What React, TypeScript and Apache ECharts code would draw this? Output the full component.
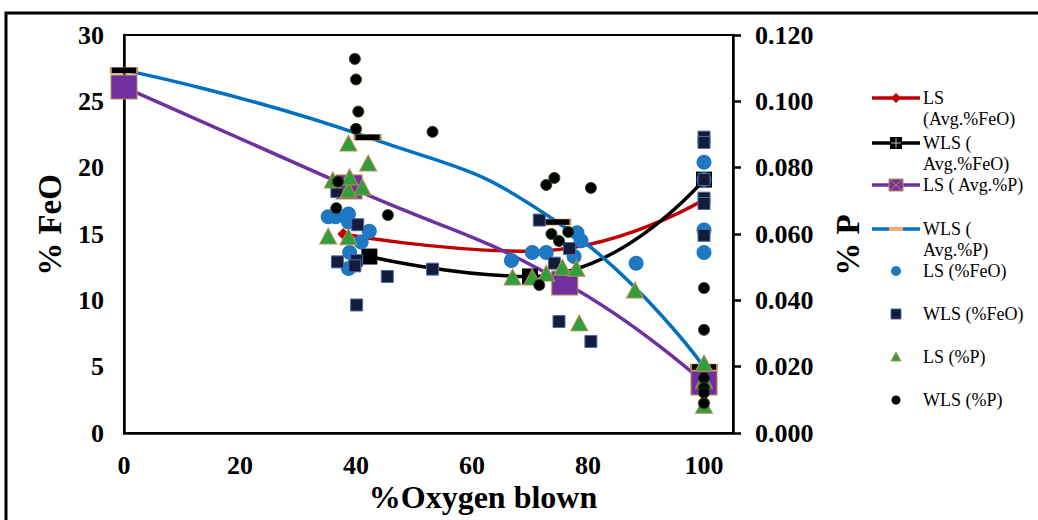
import React, { useEffect, useRef } from "react";
import * as echarts from "echarts";

// ---- Data ----
const xTicks = [0, 20, 40, 60, 80, 100];

// Average curves ([%O2 blown, value])
const lsAvgFeO = [[37.8, 15.0], [70, 13.7], [100, 17.6]];
const wlsAvgFeO = [[42.3, 13.3], [70, 11.8], [100, 19.1]];
const lsAvgP = [[0, 0.1043], [38.8, 0.0742], [76, 0.0452], [100, 0.0151]];
const wlsAvgP = [[0, 0.1094], [42, 0.0892], [74.7, 0.0636], [100, 0.0199]];

// Individual measurements
const lsFeO = [
  [35.2, 16.3], [36.5, 16.3], [38.7, 16.5], [38.7, 15.9], [42.3, 15.2], [40.9, 14.4], [38.9, 13.6], [38.7, 12.4],
  [66.8, 13.0], [70.4, 13.6], [72.8, 13.6], [78.1, 15.1], [78.8, 14.5], [77.6, 13.3], [88.3, 12.8],
  [100, 20.4], [100, 19.1], [100, 15.3], [100, 13.6],
];
const wlsFeO = [
  [36.7, 18.2], [40.3, 15.7], [36.8, 12.9], [40.1, 13.0], [39.8, 12.6], [45.4, 11.8], [53.2, 12.35], [40.1, 9.65],
  [71.6, 16.05], [76.8, 13.9], [74.2, 12.8], [75.0, 8.4], [80.5, 6.9],
  [100, 22.3], [100, 21.9], [100, 19.1], [100, 17.7], [100, 17.3], [100, 14.9],
];
const lsP = [
  [35.2, 0.0594], [36.0, 0.0763], [38.7, 0.0874], [38.7, 0.0733], [38.9, 0.0772], [38.7, 0.0592], [41.1, 0.0742], [42.1, 0.0814],
  [67.0, 0.047], [70.4, 0.047], [72.8, 0.0482], [75.6, 0.05], [78.0, 0.0497], [78.5, 0.0332], [88.1, 0.0431],
  [100, 0.0211], [100, 0.016], [100, 0.0084],
];
const wlsP = [
  [39.8, 0.1128], [40.0, 0.1066], [40.4, 0.0969], [40.0, 0.0917], [53.2, 0.0908], [36.9, 0.0758], [36.6, 0.0678], [45.5, 0.0657],
  [72.8, 0.0748], [74.2, 0.0769], [80.5, 0.0739], [73.7, 0.06], [76.6, 0.0606], [75.0, 0.0579], [71.6, 0.0446],
  [100, 0.0437], [100, 0.0311], [100, 0.0166], [100, 0.0136], [100, 0.0121], [100, 0.009],
];

const legendNames = [
  ["LS", "(Avg.%FeO)"],
  ["WLS (", "Avg.%FeO)"],
  ["LS ( Avg.%P)"],
  ["WLS (", "Avg.%P)"],
  ["LS (%FeO)"],
  ["WLS (%FeO)"],
  ["LS (%P)"],
  ["WLS (%P)"],
];

const RED = "#c00000";
const BLACK = "#000000";
const PURPLE = "#7030a0";
const BLUE = "#0070c0";
const DOT_BLUE = "#1f78c4";
const NAVY = "#141c3c";
const GREEN = "#2f9e3c";
const TAN = "#c08a50";
const SERIF = "Liberation Serif";

function buildLegend() {
  const ys = [98, 143, 185, 229, 271, 314, 357, 400];
  const els: any[] = [];
  const x0 = 872, x1 = 920, cx = 896;
  const lineColors = [RED, BLACK, PURPLE, BLUE];
  ys.forEach((y, i) => {
    if (i < 4) {
      els.push({ type: "line", shape: { x1: x0, y1: y, x2: x1, y2: y }, style: { stroke: lineColors[i], lineWidth: 3.5 } });
    }
    if (i === 0) {
      els.push({ type: "polygon", shape: { points: [[cx, y - 5], [cx + 5, y], [cx, y + 5], [cx - 5, y]] }, style: { fill: RED } });
    } else if (i === 1) {
      els.push({ type: "rect", shape: { x: cx - 6, y: y - 6, width: 12, height: 12 }, style: { fill: BLACK } });
      els.push({ type: "line", shape: { x1: cx - 5, y1: y, x2: cx + 5, y2: y }, style: { stroke: "#bbb", lineWidth: 1 } });
      els.push({ type: "line", shape: { x1: cx, y1: y - 5, x2: cx, y2: y + 5 }, style: { stroke: "#bbb", lineWidth: 1 } });
    } else if (i === 2) {
      els.push({ type: "rect", shape: { x: cx - 7, y: y - 6, width: 14, height: 12 }, style: { fill: PURPLE, stroke: TAN, lineWidth: 1 } });
      els.push({ type: "line", shape: { x1: cx - 7, y1: y - 6, x2: cx + 7, y2: y + 6 }, style: { stroke: TAN, lineWidth: 1 } });
      els.push({ type: "line", shape: { x1: cx + 7, y1: y - 6, x2: cx - 7, y2: y + 6 }, style: { stroke: TAN, lineWidth: 1 } });
    } else if (i === 3) {
      els.push({ type: "rect", shape: { x: cx - 7, y: y - 2, width: 14, height: 4 }, style: { fill: "#f4a582" } });
    } else if (i === 4) {
      els.push({ type: "circle", shape: { cx, cy: y, r: 5 }, style: { fill: DOT_BLUE } });
    } else if (i === 5) {
      els.push({ type: "rect", shape: { x: cx - 5, y: y - 5, width: 10, height: 10 }, style: { fill: NAVY, stroke: "#4a6aa8", lineWidth: 1 } });
    } else if (i === 6) {
      els.push({ type: "polygon", shape: { points: [[cx, y - 5], [cx + 5, y + 4], [cx - 5, y + 4]] }, style: { fill: GREEN, stroke: TAN, lineWidth: 1 } });
    } else {
      els.push({ type: "circle", shape: { cx, cy: y, r: 4.5 }, style: { fill: BLACK } });
    }
    legendNames[i].forEach((t, k) => {
      els.push({
        type: "text",
        x: x1 + 3,
        y: y + k * 21,
        style: { text: t, fontFamily: SERIF, fontSize: 18, fill: "#000", textAlign: "left", textVerticalAlign: "middle" },
      });
    });
  });
  return els;
}

export default function App() {
  const ref = useRef<HTMLDivElement>(null);
  useEffect(() => {
    if (!ref.current) return;
    const chart = echarts.init(ref.current, null, { renderer: "svg" });
    const tickLabel = { fontFamily: SERIF, fontWeight: "bold", fontSize: 26, color: "#000" };
    const lineZ = 2;
    const dotZ = 3;
    const option: any = {
      animation: false,
      backgroundColor: "#fff",
      grid: { left: 124, right: 305, top: 35, bottom: 87, show: true, borderColor: "#000", borderWidth: 2, backgroundColor: "transparent" },
      xAxis: {
        type: "value",
        min: xTicks[0],
        max: 105,
        interval: 20,
        axisLine: { show: true, onZero: false, lineStyle: { color: "#000", width: 2.5 } },
        axisTick: { show: false },
        splitLine: { show: false },
        axisLabel: { ...tickLabel, margin: 19, showMaxLabel: false },
      },
      yAxis: [
        {
          type: "value",
          min: 0,
          max: 30,
          interval: 5,
          axisLine: { show: true, onZero: false, lineStyle: { color: "#000", width: 2.5 } },
          axisTick: { show: false },
          splitLine: { show: false },
          axisLabel: { ...tickLabel, margin: 20 },
        },
        {
          type: "value",
          min: 0,
          max: 0.12,
          interval: 0.02,
          position: "right",
          axisLine: { show: true, onZero: false, lineStyle: { color: "#000", width: 2.5 } },
          axisTick: { show: true, inside: false, length: 8, lineStyle: { color: "#000", width: 2.5 } },
          splitLine: { show: false },
          axisLabel: { ...tickLabel, margin: 22, formatter: (v: number) => v.toFixed(3) },
        },
      ],
      series: [
        {
          name: "LS (Avg.%FeO)", type: "line", z: lineZ, yAxisIndex: 0, smooth: true, data: lsAvgFeO,
          lineStyle: { color: RED, width: 3.5 }, symbol: "diamond", symbolSize: 12,
          itemStyle: { color: RED },
        },
        {
          name: "WLS (Avg.%FeO)", type: "line", z: lineZ, yAxisIndex: 0, smooth: true, data: wlsAvgFeO,
          lineStyle: { color: BLACK, width: 3.5 }, symbol: "rect", symbolSize: 16,
          itemStyle: { color: BLACK },
        },
        {
          name: "LS (Avg.%P)", type: "line", z: lineZ, yAxisIndex: 1, smooth: true, data: lsAvgP,
          lineStyle: { color: PURPLE, width: 3.5 }, symbol: "rect", symbolSize: [26, 24],
          itemStyle: { color: PURPLE, borderColor: TAN, borderWidth: 1 },
        },
        {
          name: "WLS (Avg.%P)", type: "line", z: lineZ, yAxisIndex: 1, smooth: true, data: wlsAvgP,
          lineStyle: { color: BLUE, width: 3.5 }, symbol: "rect", symbolSize: [26, 6],
          itemStyle: { color: BLACK, borderColor: TAN, borderWidth: 1 },
        },
        {
          name: "LS (%FeO)", type: "scatter", z: dotZ, yAxisIndex: 0, data: lsFeO,
          symbol: "circle", symbolSize: 15, itemStyle: { color: DOT_BLUE, opacity: 1 },
        },
        {
          name: "WLS (%FeO)", type: "scatter", z: dotZ, yAxisIndex: 0, data: wlsFeO,
          symbol: "rect", symbolSize: 12, itemStyle: { color: NAVY, borderColor: "#4a6aa8", borderWidth: 1, opacity: 1 },
        },
        {
          name: "LS (%P)", type: "scatter", z: dotZ, yAxisIndex: 1, data: lsP,
          symbol: "triangle", symbolSize: [17, 16], itemStyle: { color: GREEN, borderColor: TAN, borderWidth: 1, opacity: 1 },
        },
        {
          name: "WLS (%P)", type: "scatter", z: dotZ, yAxisIndex: 1, data: wlsP,
          symbol: "circle", symbolSize: 11, itemStyle: { color: BLACK, borderColor: "#2d4a1e", borderWidth: 1, opacity: 1 },
        },
      ],
      graphic: [
        { type: "rect", shape: { x: 6, y: 13, width: 1060, height: 540 }, style: { fill: "none", stroke: "#000", lineWidth: 3 }, silent: true },
        {
          type: "text", x: 50, y: 225, rotation: Math.PI / 2,
          style: { text: "% FeO", fontFamily: SERIF, fontWeight: "bold", fontSize: 33, fill: "#000", textAlign: "center", textVerticalAlign: "middle" },
        },
        {
          type: "text", x: 848, y: 245, rotation: Math.PI / 2,
          style: { text: "% P", fontFamily: SERIF, fontWeight: "bold", fontSize: 33, fill: "#000", textAlign: "center", textVerticalAlign: "middle" },
        },
        {
          type: "text", x: 483, y: 497,
          style: { text: "%Oxygen blown", fontFamily: SERIF, fontWeight: "bold", fontSize: 32, fill: "#000", textAlign: "center", textVerticalAlign: "middle" },
        },
        ...buildLegend(),
      ],
    };
    chart.setOption(option);
    return () => chart.dispose();
  }, []);
  return <div ref={ref} style={{ position: "fixed", left: 0, top: 0, width: 1038, height: 520, background: "#fff" }} />;
}
